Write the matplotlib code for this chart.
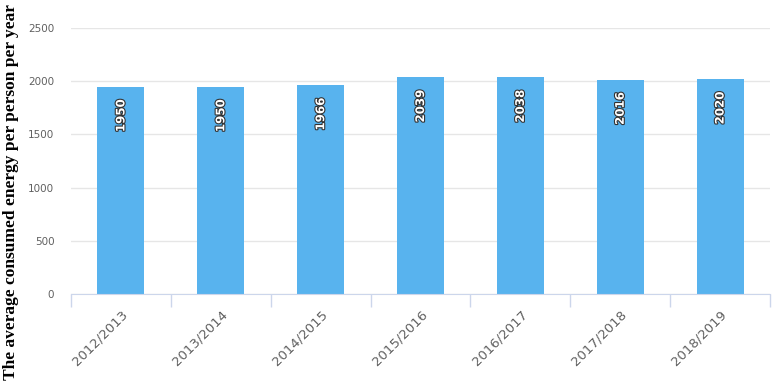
import matplotlib
matplotlib.use('Agg')
import matplotlib.pyplot as plt
import matplotlib.patheffects as pe
import numpy as np

# average consumed energy per person per year
seasons = ['2012/2013', '2013/2014', '2014/2015', '2015/2016',
           '2016/2017', '2017/2018', '2018/2019']
energy = [1950, 1950, 1966, 2039, 2038, 2016, 2020]
yticks = [0, 500, 1000, 1500, 2000, 2500]

fig = plt.figure(figsize=(7.82, 3.84), dpi=100)
ax = fig.add_axes([0.0908, 0.234, 0.8939, 0.693])

x = np.arange(len(seasons))
ax.bar(x, energy, width=0.47, color='#58b3ee', zorder=2)

# value labels inside the top of each bar
for xi, v in zip(x, energy):
  ax.text(xi, v - 120, str(v), rotation=90, ha='center', va='top',
          color='white', fontsize=8.5, fontweight='bold',
          path_effects=[pe.withStroke(linewidth=1.6, foreground='#333333')],
          zorder=3)

ax.set_xlim(-0.5, len(seasons) - 0.5)
ax.set_ylim(0, 2500)
ax.set_yticks(yticks)
ax.set_yticklabels([str(t) for t in yticks], color='#606060', fontsize=7.5)
ax.yaxis.grid(True, color='#e6e6e6', linewidth=1, zorder=0)
ax.tick_params(axis='y', length=0, pad=12)

# category ticks sit between bars
ax.set_xticks(x)
ax.set_xticklabels(seasons, rotation=45, ha='right', rotation_mode='anchor',
                   color='#606060', fontsize=9.5)
ax.tick_params(axis='x', length=0, pad=10)
ax.set_xticks(np.arange(len(seasons) + 1) - 0.5, minor=True)
ax.tick_params(axis='x', which='minor', length=9, color='#ccd6eb', width=1)

for s in ['top', 'right', 'left']:
  ax.spines[s].set_visible(False)
ax.spines['bottom'].set_color('#ccd6eb')

fig.text(0.014, 0.5, 'The average consumed energy per person per year',
         rotation=90, ha='center', va='center', fontsize=12.5,
         fontweight='bold', family='Liberation Serif', color='black')

fig.savefig('out.png', dpi=100)
